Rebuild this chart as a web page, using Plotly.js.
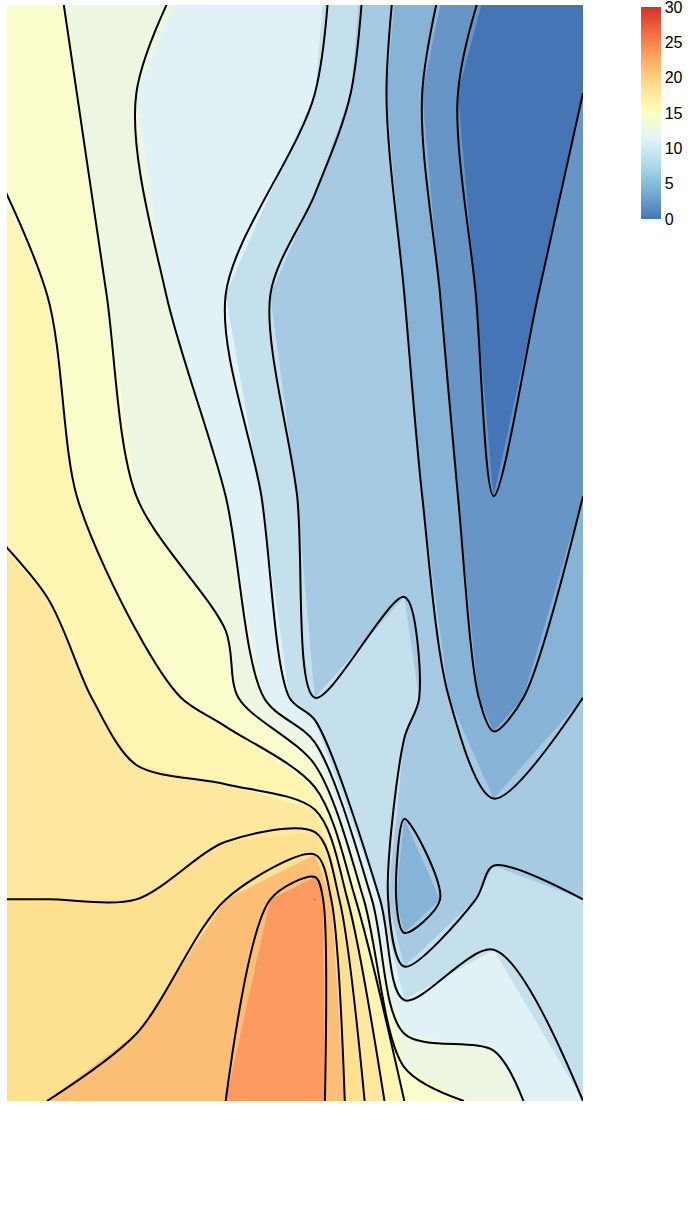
<!DOCTYPE html>
<html>
<head>
<meta charset="utf-8">
<script src="https://cdn.plot.ly/plotly-3.0.1.min.js"></script>
<style>
  html, body { margin: 0; padding: 0; background: #ffffff; }
  #chart { width: 700px; height: 1226px; }
</style>
</head>
<body>
<div id="chart"></div>
<script>
// grid coordinates
const xValues = [0, 1, 2, 3, 4, 5, 6, 7];
const yValues = [0, 1, 2, 3, 4, 5, 6];

// z values, one row per y value
const row0 = [2, 4, 7, 12, 13, 14, 15, 16];
const row1 = [3, 1, 6, 11, 12, 13, 16, 17];
const row2 = [4, 2, 7, 7, 11, 14, 17, 18];
const row3 = [5, 3, 8, 8, 13, 15, 18, 19];
const row4 = [7, 4, 10, 9, 16, 18, 20, 19];
const row5 = [9, 10, 5, 27, 23, 21, 21, 21];
const row6 = [11, 14, 17, 26, 25, 24, 23, 22];

// contour levels (odd values, level boundaries inclusive from above)
const levelStart = 0.9999;
const levelEnd = 26.9999;
const levelSize = 2;

// colorbar ticks
const tickValues = [0, 5, 10, 15, 20, 25, 30];
const tickLabels = ['0', '5', '10', '15', '20', '25', '30'];

const zGrid = [row0, row1, row2, row3, row4, row5, row6];

// continuous scale shown in the colorbar (0..30)
const barScale = [
  [0, '#4575b4'], [0.125, '#74add1'], [0.25, '#abd9e9'], [0.375, '#e0f3f8'],
  [0.5, '#ffffbf'], [0.625, '#fee090'], [0.75, '#fdae61'], [0.875, '#f46d43'], [1, '#d73027']
];

// band colours for the filled contours (band midpoints 0..28 -> 0..1)
const bandColors = ['#4575b4', '#4575b4', '#6795c6', '#86b3d6', '#a5cae2', '#c3e0ec', '#e0f2f6',
  '#edf6e0', '#fbfccb', '#fef5b2', '#fee89e', '#fee091', '#fdbf76', '#fd9a5f', '#f67b4c'];
const fillScale = bandColors.map((c, i) => [i / (bandColors.length - 1), c]);

const contourLevels = { start: levelStart, end: levelEnd, size: levelSize };

const traces = [
  {
    type: 'heatmap', x: xValues, y: yValues, z: zGrid,
    zmin: 0, zmax: 30, colorscale: barScale, opacity: 0, hoverinfo: 'skip',
    showscale: true,
    colorbar: {
      thickness: 20, thicknessmode: 'pixels',
      len: 212, lenmode: 'pixels',
      x: 1.1007, xanchor: 'left', xpad: 0,
      y: 0.99822, yanchor: 'top', ypad: 0,
      outlinewidth: 0, ticks: '', ticklabeloverflow: 'allow',
      tickmode: 'array', tickvals: tickValues, ticktext: tickLabels,
      tickfont: { family: 'Arial, "Liberation Sans", sans-serif', size: 16, color: '#000000' }
    }
  },
  {
    type: 'contour', x: xValues, y: yValues, z: zGrid,
    autocontour: false, contours: Object.assign({ coloring: 'fill', showlines: false }, contourLevels),
    colorscale: fillScale, showscale: false, hoverinfo: 'skip',
    line: { width: 0, smoothing: 0 }
  },
  {
    type: 'contour', x: xValues, y: yValues, z: zGrid,
    autocontour: false, contours: Object.assign({ coloring: 'none', showlines: true }, contourLevels),
    showscale: false, hoverinfo: 'skip',
    line: { width: 2, color: '#000000', smoothing: 0.85 }
  }
];

const layout = {
  width: 700, height: 1226,
  margin: { l: 7, r: 117, t: 5, b: 96, pad: 0 },
  paper_bgcolor: '#ffffff', plot_bgcolor: '#ffffff',
  showlegend: false,
  xaxis: { range: [6.448, 0], visible: false, showgrid: false, zeroline: false, fixedrange: true },
  yaxis: { range: [6.144, 0.5635], visible: false, showgrid: false, zeroline: false, fixedrange: true },
  font: { family: 'Arial, "Liberation Sans", sans-serif' }
};

Plotly.newPlot('chart', traces, layout, { staticPlot: true, displayModeBar: false });
</script>
</body>
</html>
